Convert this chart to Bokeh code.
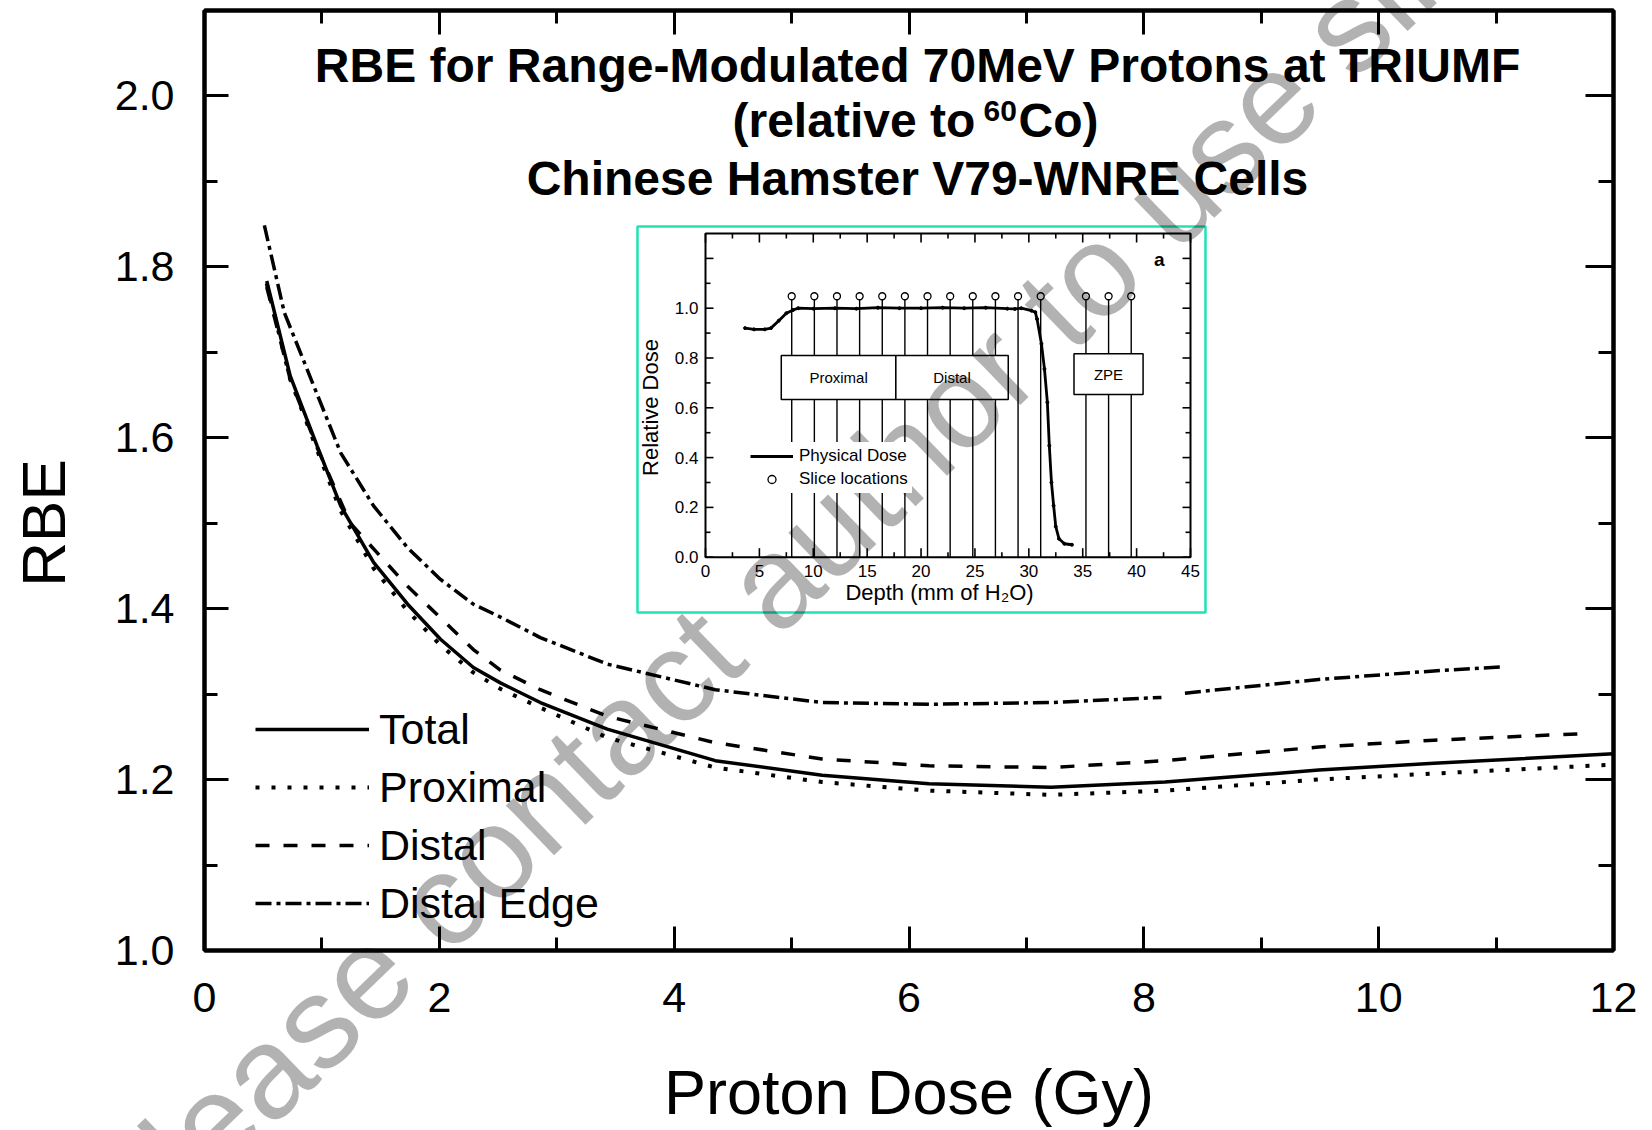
import math
from bokeh.plotting import figure
from bokeh.models import (Range1d, FixedTicker, LinearAxis, Legend, LegendItem,
                          Label, PrintfTickFormatter)
from bokeh.core.properties import value
from bokeh.embed import file_html
from bokeh.resources import INLINE

NAN = float("nan")
FONT = "Liberation Sans"

# ---------------- main chart data (RBE vs proton dose) ----------------
dose_total = [0.53, 0.73, 0.96, 1.16, 1.44, 1.73, 2.01, 2.29, 2.52, 2.86, 3.43, 4.35,
              5.26, 6.17, 7.21, 8.18, 9.49, 10.47, 12.0]
rbe_total = [1.783, 1.672, 1.590, 1.520, 1.454, 1.405, 1.364, 1.331, 1.313, 1.290, 1.259,
             1.222, 1.205, 1.195, 1.191, 1.197, 1.211, 1.219, 1.230]

dose_prox = [0.53, 0.73, 0.96, 1.16, 1.44, 1.73, 2.01, 2.29, 2.52, 2.86, 3.43, 4.35,
             5.26, 6.17, 7.21, 8.18, 9.49, 10.47, 11.95]
rbe_prox = [1.780, 1.668, 1.585, 1.514, 1.447, 1.397, 1.357, 1.325, 1.306, 1.284, 1.249,
            1.214, 1.197, 1.187, 1.182, 1.187, 1.200, 1.207, 1.217]

dose_dist = [0.53, 0.73, 0.96, 1.24, 1.73, 2.29, 2.52, 2.86, 3.43, 4.35, 5.26, 6.17,
             7.21, 8.18, 9.49, 10.47, 11.8]
rbe_dist = [1.776, 1.668, 1.588, 1.500, 1.426, 1.352, 1.328, 1.305, 1.274, 1.243, 1.224,
            1.216, 1.214, 1.222, 1.238, 1.246, 1.254]

dose_edge = [0.51, 0.68, 0.92, 1.16, 1.44, 1.73, 2.01, 2.29, 2.52, 2.86, 3.43, 4.35,
             5.26, 6.17, 7.21, 8.15, NAN, 8.35, 9.49, 10.47, 11.07]
rbe_edge = [1.848, 1.746, 1.664, 1.582, 1.520, 1.471, 1.434, 1.405, 1.390, 1.366, 1.335,
            1.305, 1.290, 1.288, 1.290, 1.296, NAN, 1.301, 1.317, 1.327, 1.332]

series_names = ["Total", "Proximal", "Distal", "Distal Edge"]

x_major = [0, 2, 4, 6, 8, 10, 12]
x_minor = [1, 3, 5, 7, 9, 11]
y_major = [1.0, 1.2, 1.4, 1.6, 1.8, 2.0]
y_minor = [1.1, 1.3, 1.5, 1.7, 1.9]

# ---------------- inset data (depth-dose profile) ----------------
depth = [3.67, 4.5, 5.5, 6.07, 6.8, 7.5, 8.13, 8.6, 10, 12, 14, 16, 18, 20, 22, 24, 26,
         28, 28.7, 29.3, 30.25, 30.6, 30.76, 31.17, 31.45, 31.72, 31.9, 32.1, 32.3, 32.5,
         32.8, 33.3, 34.0]
rel_dose = [0.92, 0.915, 0.915, 0.92, 0.95, 0.98, 0.993, 1.0, 0.998, 1.0, 0.998, 1.002,
            1.0, 1.0, 1.002, 1.0, 1.002, 0.998, 0.997, 1.0, 0.99, 0.984, 0.957, 0.857,
            0.756, 0.622, 0.448, 0.30, 0.207, 0.123, 0.074, 0.054, 0.05]
slice_depth = [8.0, 10.1, 12.2, 14.3, 16.4, 18.5, 20.6, 22.7, 24.8, 26.9, 29.0, 31.1,
               35.3, 37.4, 39.5]
slice_level = [1.048] * 15

region_names = ["Proximal", "Distal", "ZPE"]
region_left = [7.03, 17.66, 34.19]
region_right = [17.66, 28.09, 40.6]
region_bottom = [0.633, 0.633, 0.653]
region_top = [0.81, 0.81, 0.817]

in_x_major = [0, 5, 10, 15, 20, 25, 30, 35, 40, 45]
in_x_minor = [2.5, 7.5, 12.5, 17.5, 22.5, 27.5, 32.5, 37.5, 42.5]
in_y_major = [0.0, 0.2, 0.4, 0.6, 0.8, 1.0, 1.2]
in_y_minor = [0.1, 0.3, 0.5, 0.7, 0.9, 1.1]
in_y_labeled = [0.0, 0.2, 0.4, 0.6, 0.8, 1.0]
in_y_text = ["0.0", "0.2", "0.4", "0.6", "0.8", "1.0"]
in_x_text = ["0", "5", "10", "15", "20", "25", "30", "35", "40", "45"]

# ---------------- layout constants (pixels) ----------------
W, H = 1652, 1130
FL, FR, FT, FB = 204, 1613, 10, 950
X0, X1 = 0.0, 12.0
Y0 = 1.0
PX_PER_Y = 855.0
Y1 = Y0 + (FB - FT) / PX_PER_Y


def mx(px):
    return X0 + (px - FL) * (X1 - X0) / (FR - FL)


def my(py):
    return Y0 + (FB - py) / PX_PER_Y


p = figure(width=W, height=H, output_backend="svg", toolbar_location=None,
           x_range=Range1d(X0, X1), y_range=Range1d(Y0, Y1),
           min_border_left=FL, min_border_right=W - FR, min_border_top=FT,
           min_border_bottom=H - FB, background_fill_color="white",
           border_fill_color="white")
p.grid.visible = False
p.outline_line_color = "black"
p.outline_line_width = 4

bottom_ax = p.below[0]
left_ax = p.left[0]


def style_axis(ax, major, minor, labels, standoff=0, maj=24, mn=13):
    ax.ticker = FixedTicker(ticks=major, minor_ticks=minor)
    ax.axis_line_width = 4
    ax.axis_line_color = "black"
    ax.major_tick_line_width = 3
    ax.minor_tick_line_width = 3
    ax.major_tick_in = maj
    ax.major_tick_out = 0
    ax.minor_tick_in = mn
    ax.minor_tick_out = 0
    if labels:
        ax.major_label_text_font = FONT
        ax.major_label_text_font_size = "43px"
        ax.major_label_text_color = "black"
        ax.major_label_standoff = standoff
    else:
        ax.major_label_overrides = {v: "" for v in major}
        ax.major_label_text_font_size = "1px"
        ax.major_label_standoff = 0


style_axis(bottom_ax, x_major, x_minor, True, standoff=32)
style_axis(left_ax, y_major, y_minor, True, standoff=30)
left_ax.formatter = PrintfTickFormatter(format="%.1f")
top_ax = LinearAxis()
style_axis(top_ax, x_major, x_minor, False)
p.add_layout(top_ax, "above")
right_ax = LinearAxis()
style_axis(right_ax, y_major, y_minor, False, maj=28, mn=15)
p.add_layout(right_ax, "right")

# ---------------- main curves ----------------
LW = 3.5
r_total = p.line(dose_total, rbe_total, line_color="black", line_width=LW)
r_prox = p.line(dose_prox, rbe_prox, line_color="black", line_width=4,
                line_dash="4 12")
r_dist = p.line(dose_dist, rbe_dist, line_color="black", line_width=LW,
                line_dash="14 14")
r_edge = p.line(dose_edge, rbe_edge, line_color="black", line_width=LW,
                line_dash="16 5 4 5")

legend = Legend(items=[LegendItem(label=n, renderers=[r]) for n, r in
                       zip(series_names, [r_total, r_prox, r_dist, r_edge])],
                location=(51, 22), glyph_width=114, glyph_height=50, label_height=50,
                spacing=8, padding=0, margin=0, label_standoff=10,
                label_text_font=FONT, label_text_font_size="43px",
                label_text_color="black",
                border_line_alpha=0, background_fill_alpha=0)
p.add_layout(legend)

# axis titles (unclipped text glyphs outside the frame)
p.text(x=[mx(43)], y=[1.5], text=["RBE"], angle=math.pi / 2, text_font=value(FONT),
       text_font_size="62px", text_align="center", text_baseline="middle",
       text_color="black", level="overlay")
p.text(x=[6.0], y=[my(1091)], text=["Proton Dose (Gy)"], text_font=value(FONT),
       text_font_size="63px", text_align="center", text_baseline="middle",
       text_color="black", level="overlay")

# chart title
TCX = mx(917)
SH = 18  # baseline correction (px)


def title_label(x, ypx, text, size="48px"):
    p.add_layout(Label(x=x, y=my(ypx - SH), text=text, text_font=FONT,
                       text_font_size=size, text_font_style="bold",
                       text_color="black", text_align="left" if x != TCX else "center",
                       text_baseline="alphabetic"))


title_label(TCX, 83, "RBE for Range-Modulated 70MeV Protons at TRIUMF")
title_label(mx(732), 138, "(relative to")
title_label(mx(983), 128, "60", size="30px")
title_label(mx(1018), 138, "Co)")
title_label(TCX, 196, "Chinese Hamster V79-WNRE Cells")

# ---------------- inset (sub-coordinates inside the main frame) ----------------
IL, IR, IT, IB = 705, 1190, 233, 556.7
IX0, IX1, IY0, IY1 = 0.0, 45.0, 0.0, 1.3
ipx = (IR - IL) / (IX1 - IX0)
ipy = (IB - IT) / (IY1 - IY0)
ins = p.subplot(x_source=Range1d(IX0, IX1), y_source=Range1d(IY0, IY1),
                x_target=Range1d(mx(IL), mx(IR)), y_target=Range1d(my(IB), my(IT)))


def ix(px):
    return IX0 + (px - IL) / ipx


def iy(py):
    return IY0 + (IB - py) / ipy


# green border box
ins.quad(left=[ix(637)], right=[ix(1205)], bottom=[iy(612)], top=[iy(226)],
         fill_color="white", line_color="#1fe3b3", line_width=2.5)

# stems for slice locations
ins.segment(x0=slice_depth, y0=[0] * len(slice_depth), x1=slice_depth, y1=slice_level,
            line_color="black", line_width=1.4)

# region boxes
ins.quad(left=region_left, right=region_right, bottom=region_bottom, top=region_top,
         fill_color="white", line_color="black", line_width=1.5)
ins.text(x=[(a + b) / 2 for a, b in zip(region_left, region_right)],
         y=[(a + b) / 2 for a, b in zip(region_bottom, region_top)], text=region_names,
         text_font=value(FONT), text_font_size="15px", text_align="center",
         text_baseline="middle", text_color="black")

# physical dose curve
r_dose = ins.line(depth, rel_dose, line_color="black", line_width=2.8)
r_dose_pts = ins.scatter(depth, rel_dose, size=3, color="black")
r_slices = ins.scatter(slice_depth, slice_level, marker="circle", size=7,
                       fill_color="white", line_color="black", line_width=1.3)

# inset frame and ticks
ins.quad(left=[IX0], right=[IX1], bottom=[IY0], top=[IY1], fill_alpha=0,
         line_color="black", line_width=2)


def tick_segments(vals, length_px, horizontal_axis):
    x0, y0, x1, y1 = [], [], [], []
    for v in vals:
        if horizontal_axis:
            d = length_px / ipy
            x0 += [v, v]; x1 += [v, v]
            y0 += [IY0, IY1]; y1 += [IY0 + d, IY1 - d]
        else:
            d = length_px / ipx
            y0 += [v, v]; y1 += [v, v]
            x0 += [IX0, IX1]; x1 += [IX0 + d, IX1 - d]
    return dict(x0=x0, y0=y0, x1=x1, y1=y1)


for vals, ln, hz in [(in_x_major, 9, True), (in_x_minor, 5, True),
                     (in_y_major, 8, False), (in_y_minor, 5, False)]:
    ins.segment(**tick_segments(vals, ln, hz), line_color="black", line_width=1.6)

ins.text(x=[ix(IL - 7)] * len(in_y_labeled), y=in_y_labeled, text=in_y_text,
         text_font=value(FONT), text_font_size="17px", text_align="right",
         text_baseline="middle", text_color="black")
ins.text(x=in_x_major, y=[iy(IB + 8)] * len(in_x_major), text=in_x_text,
         text_font=value(FONT), text_font_size="17px", text_align="center",
         text_baseline="top", text_color="black")
ins.text(x=[ix(650)], y=[iy(407)], text=["Relative Dose"], angle=math.pi / 2,
         text_font=value(FONT), text_font_size="22px", text_align="center",
         text_baseline="middle", text_color="black")
ins.text(x=[ix(939)], y=[iy(592)], text=["Depth (mm of H\u2082O)"],
         text_font=value(FONT), text_font_size="22px", text_align="center",
         text_baseline="middle", text_color="black")
ins.text(x=[42.1], y=[1.195], text=["a"], text_font=value(FONT), text_font_size="19px",
         text_font_style="bold", text_align="center", text_baseline="middle",
         text_color="black")

in_legend = Legend(items=[LegendItem(label="Physical Dose", renderers=[r_dose]),
                          LegendItem(label="Slice locations", renderers=[r_slices])],
                   location=(542, 457), glyph_width=43, glyph_height=20, label_height=20,
                   spacing=3, padding=4, margin=0, label_standoff=6,
                   label_text_font=FONT, label_text_font_size="17px",
                   label_text_color="black",
                   border_line_alpha=0, background_fill_color="white",
                   background_fill_alpha=1)
p.add_layout(in_legend)

# ---------------- watermark (unclipped text glyph) ----------------
p.text(x=[mx(814)], y=[my(540)], text=["please contact author to use slide"],
       angle=math.radians(44), text_font=value(FONT), text_font_size="131px",
       text_color="black", text_alpha=0.3, text_align="center", text_baseline="middle",
       level="overlay")

open("out.html", "w").write(file_html(p, INLINE))
